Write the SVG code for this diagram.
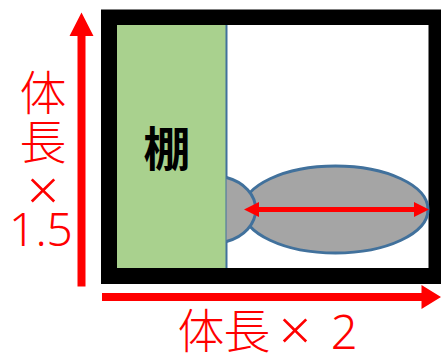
<svg xmlns="http://www.w3.org/2000/svg" width="441" height="356" viewBox="0 0 441 356">
<style>
.lbl{font-family:"Noto Sans CJK JP","Noto Sans",sans-serif;fill:#ff0000;font-size:47px;font-weight:300;text-anchor:middle}
.lat{font-family:"Noto Sans",sans-serif;font-weight:300}
.x{font-size:56px}
.body{fill:#a5a5a5;stroke:#41719c;stroke-width:3}
.ar{fill:#ff0000}
</style>
<rect width="441" height="356" fill="#fff"/>
<g id="frame"><path fill="#000" fill-rule="evenodd" d="M101 9.500H441V284H101ZM117 25V268H428.500V25Z"/></g>
<g id="shelf"><rect x="117" y="25" width="109" height="243" fill="#a9d18e"/><line x1="226.500" y1="25" x2="226.500" y2="268" stroke="#41719c" stroke-width="2"/>
<text x="167" y="166" style="font-family:'Noto Sans CJK JP',sans-serif;font-size:47px;font-weight:700;text-anchor:middle" fill="#000">棚</text></g>
<g id="fish"><ellipse class="body" cx="335.500" cy="209.500" rx="92.500" ry="43.500"/>
<path d="M226.500 177.500A42.500 33.700 0 0 1 226.500 241.500" fill="#a5a5a5" stroke="#41719c" stroke-width="3"/></g>
<g id="connectors">
<path class="ar" d="M244 209.500L259 202V207H414V202L429 209.500L414 217V212H259V217Z"/>
<path class="ar" d="M81.500 12.500L93.500 36H85.500V286.500H77.500V36H69.500Z"/>
<path class="ar" d="M441 297L421.500 309V301H102V293H421.500V285Z"/>
</g>
<g id="labels">
<text class="lbl" x="43" y="110">体</text>
<text class="lbl" x="43" y="159">長</text>
<text class="lbl lat x" x="43" y="210">×</text>
<text class="lbl lat" x="41" y="246" style="font-size:46px">1.5</text>
<text class="lbl" y="348"><tspan x="201">体</tspan><tspan x="247">長</tspan><tspan class="lat x" x="295" dy="2">×</tspan><tspan class="lat" x="338" dy="-1" style="font-size:47px"> 2</tspan></text>
</g>
</svg>
